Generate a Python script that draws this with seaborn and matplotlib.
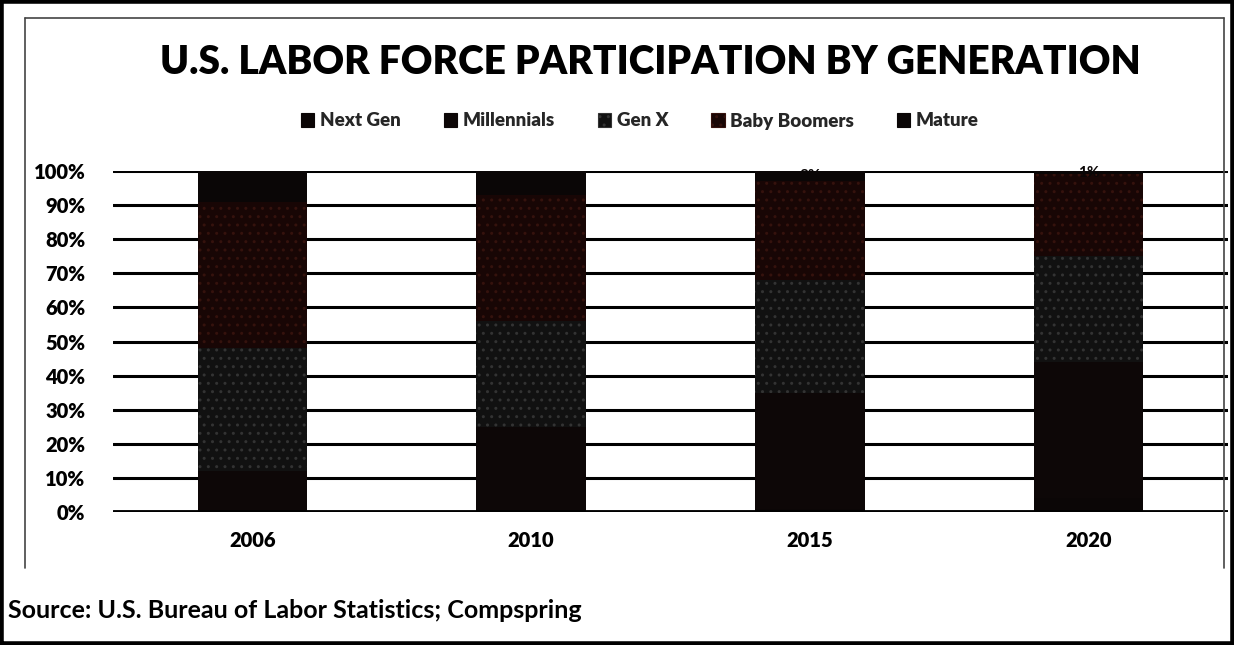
import numpy as np
import pandas as pd
import matplotlib
matplotlib.use("Agg")
import matplotlib.pyplot as plt
from matplotlib.patches import Patch
from matplotlib.lines import Line2D
import seaborn as sns

# ---- data (shares of labor force, %) ----
years = ["2006", "2010", "2015", "2020"]
generations = ["Next Gen", "Millennials", "Gen X", "Baby Boomers", "Mature"]
next_gen = [0, 0, 1, 4]
millennials = [12, 25, 34, 40]
gen_x = [36, 31, 33, 31]
baby_boomers = [43, 37, 29, 24]
mature = [9, 7, 3, 1]
y_ticks = [0, 10, 20, 30, 40, 50, 60, 70, 80, 90, 100]

title = "U.S. LABOR FORCE PARTICIPATION BY GENERATION"
source = "Source: U.S. Bureau of Labor Statistics; Compspring"

series = [next_gen, millennials, gen_x, baby_boomers, mature]
fills = ["#0b0606", "#0d0707", "#111111", "#180605", "#0a0606"]
hatch_cols = ["#0b0606", "#0d0707", "#333333", "#35120d", "#0a0606"]
hatches = [None, None, "..", "..", None]

sns.set_theme(style="white")
plt.rcParams["font.family"] = ["Lato", "DejaVu Sans"]
plt.rcParams["hatch.linewidth"] = 1.0

W, H = 1234, 645
fig = plt.figure(figsize=(W / 100, H / 100), dpi=100)
fig.patch.set_facecolor("white")

ax = fig.add_axes([113 / W, 1 - 512 / H, 1115 / W, (512 - 171) / H])
ax.set_axisbelow(True)

df = pd.DataFrame({"year": years})
bottom = np.zeros(len(years))
for name, vals, fc, hc, ht in zip(generations, series, fills, hatch_cols, hatches):
    df[name] = np.array(vals, dtype=float) / 100.0
    kw = dict(bottom=bottom.copy(), color=fc, edgecolor=hc, linewidth=0, width=0.393,
              saturation=1, ax=ax)
    if ht:
        kw["hatch"] = ht
    sns.barplot(data=df, x="year", y=name, **kw)
    bottom = bottom + df[name].values

# Mature data labels (dark on dark, only visible where they poke out)
top_base = bottom - df["Mature"].values
for i, v in enumerate(mature):
    ax.text(i, top_base[i] + v / 200.0, f"{v}%", ha="center", va="center",
            fontsize=11, fontweight="bold", color="#0a0606", zorder=5)

ax.set_ylim(0, 1)
ax.set_xlim(-0.5, 3.5)
ax.set_yticks([t / 100 for t in y_ticks])
ax.set_yticklabels([f"{t}%" for t in y_ticks], fontsize=14.5, fontweight="heavy", color="black")
ax.set_xticks(range(len(years)))
ax.set_xticklabels(years, fontsize=14.5, fontweight="heavy", color="black")
ax.tick_params(axis="y", length=0, pad=20)
ax.tick_params(axis="x", length=0, pad=14)
ax.set_xlabel("")
ax.set_ylabel("")
for s in ax.spines.values():
    s.set_visible(False)
ax.yaxis.grid(True, color="black", linewidth=2.2)
ax.xaxis.grid(False)
ax.axhline(0, color="black", linewidth=3.5, zorder=6)

# title
fig.text(650 / W, 1 - 63 / H, title, ha="center", va="center", fontsize=28,
         fontweight="heavy", color="black")

# legend
handles = [Patch(facecolor=fc, edgecolor=(hc if ht else fc), hatch=ht, linewidth=0.8)
           for fc, hc, ht in zip(fills, hatch_cols, hatches)]
fig.legend(handles, generations, loc="center", bbox_to_anchor=(640 / W, 1 - 121 / H),
           ncol=5, frameon=False, handlelength=0.7, handleheight=0.7, handletextpad=0.3,
           columnspacing=2.3, prop={"weight": "heavy", "size": 13.5})

# source
fig.text(8 / W, 1 - 611 / H, source, ha="left", va="center", fontsize=18,
         fontweight="bold", color="black")

# inner frame of the pasted chart image
fl = dict(color="#444444", linewidth=1.2, transform=fig.transFigure)
fig.add_artist(Line2D([25 / W, 25 / W], [1 - 18 / H, 1 - 568 / H], **fl))
fig.add_artist(Line2D([25 / W, 1224 / W], [1 - 18 / H, 1 - 18 / H], **fl))
fig.add_artist(Line2D([1224 / W, 1224 / W], [1 - 18 / H, 1 - 568 / H], **fl))

# outer black border
ob = dict(color="black", linewidth=4, transform=fig.transFigure)
fig.add_artist(Line2D([0.001, 0.999, 0.999, 0.001, 0.001],
                      [0.002, 0.002, 0.998, 0.998, 0.002], **ob))

fig.savefig("out.png", dpi=100, facecolor="white")
